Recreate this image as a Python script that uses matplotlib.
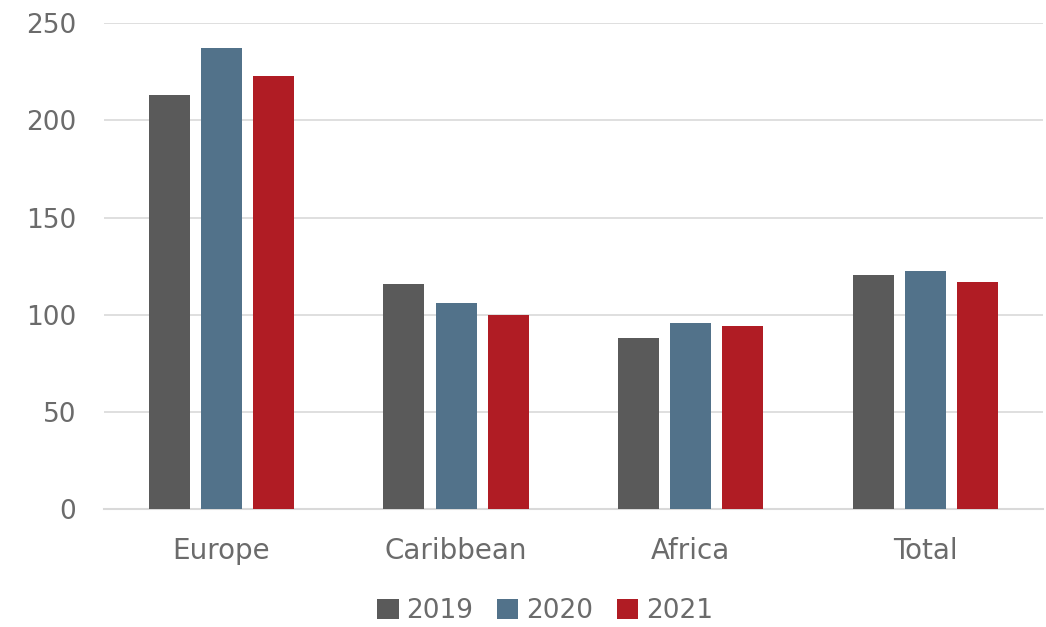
import matplotlib.pyplot as plt
import numpy as np

regions = ["Europe", "Caribbean", "Africa", "Total"]
years = ["2019", "2020", "2021"]
v2019 = [213, 116, 88, 120.5]
v2020 = [237, 106, 96, 122.5]
v2021 = [223, 100, 94, 117]
colors = ["#5a5a5a", "#52728a", "#b01c24"]
text_col = "#6b6b6b"

plt.rcParams["font.family"] = ["DejaVu Sans"]

fig = plt.figure(figsize=(10.46, 6.27), dpi=100)
ax = fig.add_axes([0.0994, 0.188, 0.8976, 0.775])

x = np.arange(len(regions))
w = 0.175
step = 0.222
for i, (vals, c, lab) in enumerate(zip([v2019, v2020, v2021], colors, years)):
    ax.bar(x + (i - 1) * step, vals, width=w, color=c, label=lab, zorder=3)

ax.set_xlim(-0.5, len(regions) - 0.5)
ax.set_ylim(0, 250)
ax.set_yticks(range(0, 251, 50))
ax.set_xticks(x)
ax.set_xticklabels(regions)
ax.yaxis.grid(True, color="#dcdcdc", linewidth=1.3, zorder=0)
ax.tick_params(axis="both", length=0, labelsize=19, colors=text_col)
ax.tick_params(axis="x", pad=20, labelsize=20)
ax.tick_params(axis="y", pad=20)
for s in ["top", "right", "left"]:
    ax.spines[s].set_visible(False)
ax.spines["bottom"].set_color("#d9d9d9")
ax.spines["bottom"].set_linewidth(1.5)

leg = ax.legend(loc="center", bbox_to_anchor=(0.47, -0.21), ncol=3, frameon=False,
                fontsize=19, handlelength=0.8, handleheight=0.8, handletextpad=0.3,
                columnspacing=0.9)
for t in leg.get_texts():
    t.set_color(text_col)

fig.savefig("out.png", dpi=100)
